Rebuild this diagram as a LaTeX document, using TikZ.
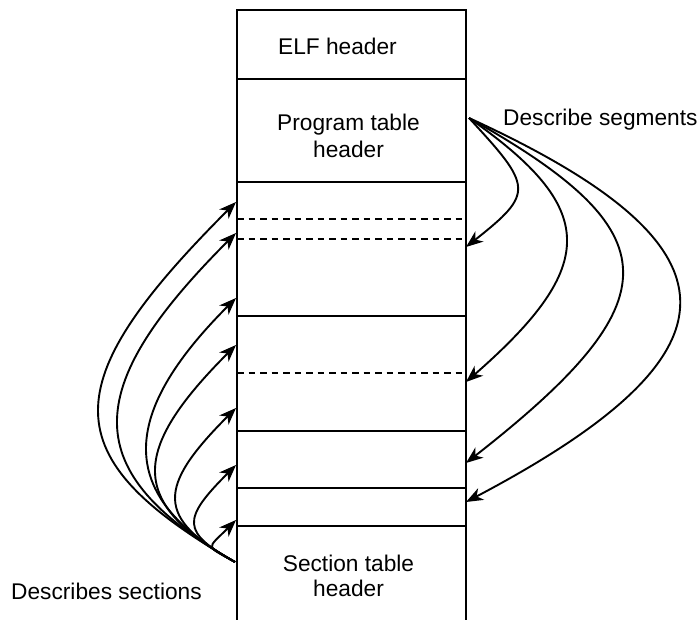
\documentclass[tikz,border=0pt]{standalone}
\usepackage{fontspec}
\setmainfont{Liberation Sans}
\usetikzlibrary{arrows.meta}
\begin{document}
\begin{tikzpicture}[x=1pt,y=-1pt,
  cell/.style={draw, line width=2.1pt, minimum width=229pt, inner sep=0pt, anchor=north west},
  sep/.style={line width=1.9pt, dash pattern=on 6.5pt off 5pt},
  txt/.style={inner sep=0pt, font=\fontsize{22.7}{27.2}\selectfont},
  arr/.style={line width=1.9pt, -{Stealth[length=17pt,width=13pt,inset=5pt]}}]
\useasboundingbox (0,0) rectangle (698,619);

% the file layout, top to bottom
\node[cell, minimum height=69pt]  (elf)  at (236,9)   {};
\node[cell, minimum height=103pt] (pth)  at (236,78)  {};
\node[cell, minimum height=134pt] (seg1) at (236,181) {};
\node[cell, minimum height=115pt] (seg2) at (236,315) {};
\node[cell, minimum height=57pt]  (seg3) at (236,430) {};
\node[cell, minimum height=38pt]  (seg4) at (236,487) {};
\node[cell, minimum height=130pt] (sht)  at (236,525) {};

% section boundaries inside the segments
\draw[sep] (237,219) -- (463,219);
\draw[sep] (237,239) -- (463,239);
\draw[sep] (237,373) -- (463,373);

% texts
\node[txt, anchor=base] (elft) at (337.5,54)  {ELF header};
\node[txt, anchor=base] (ptha) at (348.5,130) {Program table};
\node[txt, anchor=base] (pthb) at (348.5,157) {header};
\node[txt, anchor=base] (shta) at (348.5,571) {Section table};
\node[txt, anchor=base] (shtb) at (348.5,596) {header};
\node[txt, anchor=base west] (segl) at (503,125) {Describe segments};
\node[txt, anchor=base west] (secl) at (11,599)  {Describes sections};

% connector ends
\coordinate (phsrc) at (469,118);
\coordinate (shsrc) at (235,562);
\coordinate (pa) at (466,247);
\coordinate (pb) at (466,382);
\coordinate (pc) at (466,463);
\coordinate (pd) at (466,502);
\coordinate (sa) at (236,202);
\coordinate (sb) at (236,233);
\coordinate (sc) at (236,298);
\coordinate (sd) at (236,345);
\coordinate (se) at (236,408);
\coordinate (sf) at (236,465);
\coordinate (sg) at (236,520);

% program headers describe segments
\draw[arr] (phsrc) .. controls (532.5,186.6) and (534.5,193) .. (pa);
\draw[arr] (phsrc) .. controls (597.8,208) and (599.8,265) .. (pb);
\draw[arr] (phsrc) .. controls (672.5,232) and (674.5,300) .. (pc);
\draw[arr] (phsrc) .. controls (748.5,246) and (750.5,352) .. (pd);

% section headers describe sections
\draw[arr] (shsrc) .. controls (53,457) and (54,384) .. (sa);
\draw[arr] (shsrc) .. controls (78.3,472) and (79.3,389.7) .. (sb);
\draw[arr] (shsrc) .. controls (117,496) and (118,416) .. (sc);
\draw[arr] (shsrc) .. controls (129,503) and (130,451) .. (sd);
\draw[arr] (shsrc) .. controls (155.7,518) and (156.7,487.3) .. (se);
\draw[arr] (shsrc) .. controls (181,532) and (182,519) .. (sf);
\draw[arr] (shsrc) .. controls (205,545) and (206,550) .. (sg);
\end{tikzpicture}
\end{document}
